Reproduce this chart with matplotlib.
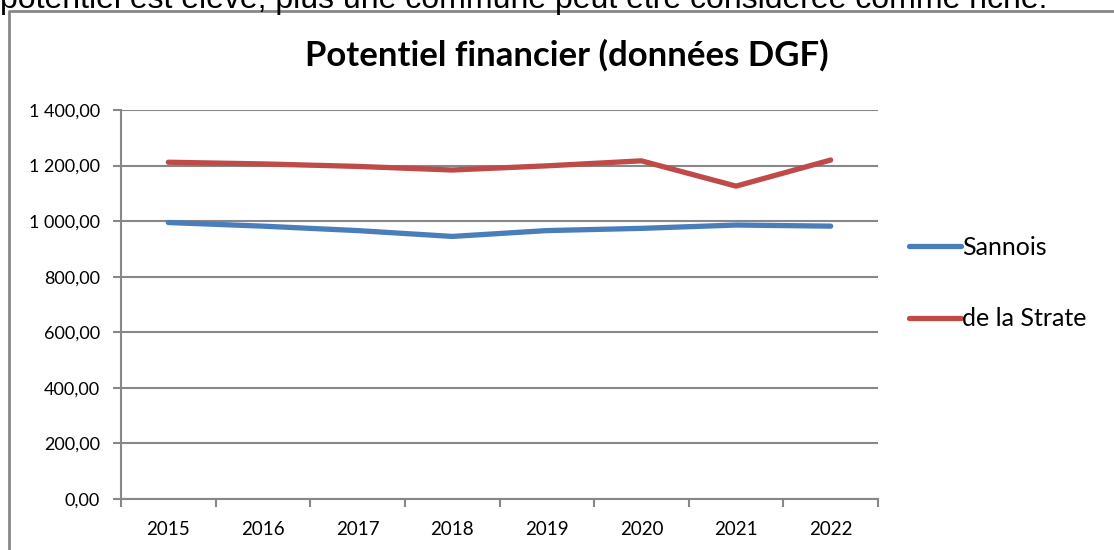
import matplotlib.pyplot as plt
import matplotlib.lines as mlines
import numpy as np

annees = ['2015', '2016', '2017', '2018', '2019', '2020', '2021', '2022']
sannois = [995, 982, 966, 945, 966, 974, 986, 982]
strate = [1212, 1206, 1197, 1184, 1199, 1217, 1126, 1220]
y_ticks = [0, 200, 400, 600, 800, 1000, 1200, 1400]
y_labels = ['0,00', '200,00', '400,00', '600,00', '800,00', '1 000,00', '1 200,00', '1 400,00']

plt.rcParams['font.family'] = ['Lato', 'DejaVu Sans']

fig = plt.figure(figsize=(11.14, 5.5), dpi=100)
W, H = 1114, 550

# texte coupé au-dessus du graphique
fig.text(0 / W, 1 - 8 / H, "potentiel est élevé, plus une commune peut être considérée comme riche.",
         fontsize=23, family=['Liberation Sans'], va='baseline', ha='left')

# cadre gris
fig.add_artist(mlines.Line2D([9 / W, 9 / W, 1], [0, 1 - 11 / H, 1 - 11 / H],
                             color='#878787', lw=2, transform=fig.transFigure))

ax = fig.add_axes([121 / W, 1 - 499 / H, (878 - 121) / W, (499 - 110) / H])
x = np.arange(len(annees))
ax.plot(x, sannois, color='#4A7EBB', lw=3.8, solid_capstyle='round', label='Sannois')
ax.plot(x, strate, color='#BE4B48', lw=3.8, solid_capstyle='round', label='de la Strate')

ax.set_xlim(-0.5, len(annees) - 0.5)
ax.set_ylim(0, 1400)
ax.set_yticks(y_ticks)
ax.set_yticklabels(y_labels)
ax.set_xticks(x)
ax.set_xticklabels(annees)
ax.set_xticks(np.arange(-0.5, len(annees)), minor=True)
ax.tick_params(axis='x', which='major', length=0, pad=16, labelsize=13.5)
ax.tick_params(axis='x', which='minor', length=6, color='#878787', width=1.5)
ax.tick_params(axis='y', length=6, color='#878787', width=1.5, labelsize=13, pad=9)
ax.grid(axis='y', color='#878787', lw=1.5)
ax.set_axisbelow(True)
for s in ['top', 'right']:
    ax.spines[s].set_visible(False)
for s in ['left', 'bottom']:
    ax.spines[s].set_color('#878787')
    ax.spines[s].set_linewidth(1.5)

fig.text(567 / W, 1 - 55 / H, 'Potentiel financier (données DGF)', fontsize=25,
         fontweight='bold', ha='center', va='center')

fig.legend(loc='center left', bbox_to_anchor=(886 / W, 1 - 283 / H), frameon=False,
           fontsize=18, handlelength=2.1, handletextpad=0.05, labelspacing=1.95)

fig.savefig('out.png', dpi=100)
